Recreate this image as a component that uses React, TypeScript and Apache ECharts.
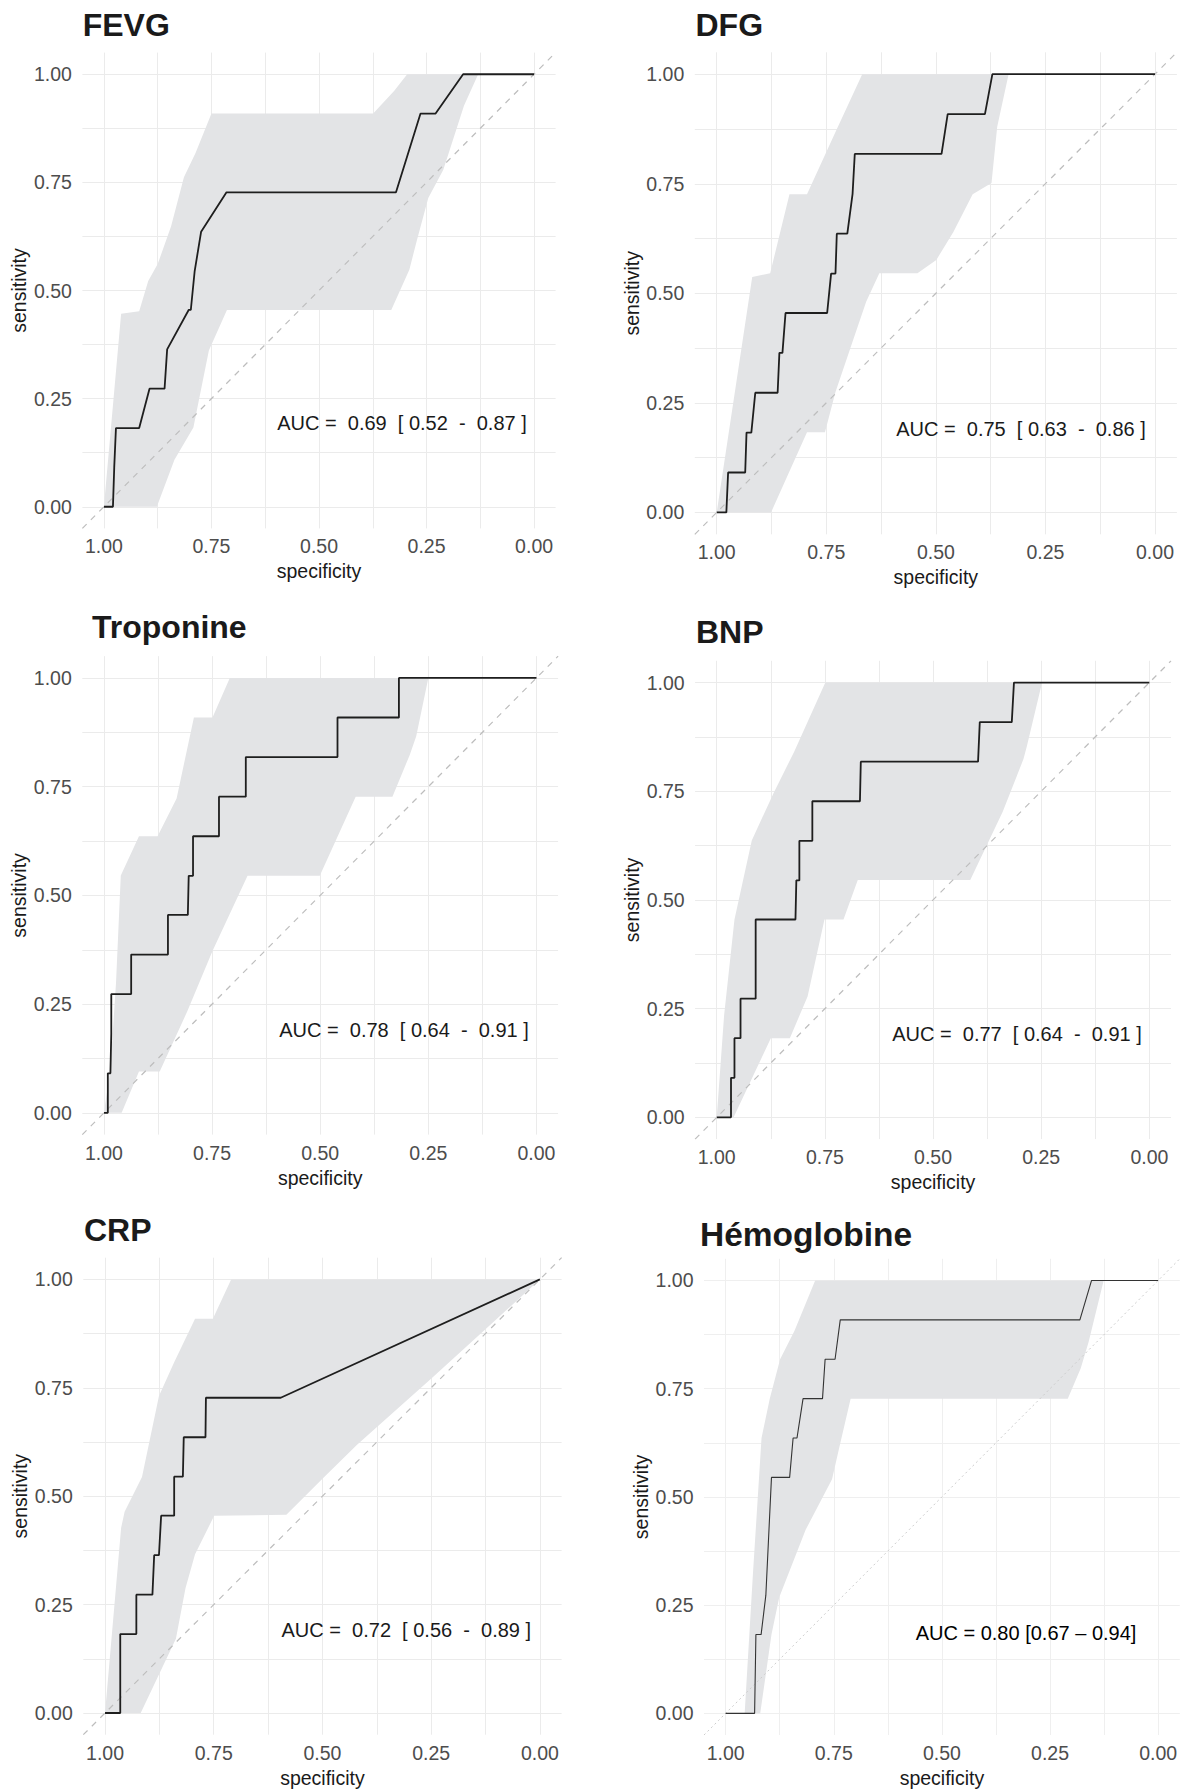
import React, { useEffect, useRef } from "react";
import * as echarts from "echarts";

// ---------- data ----------
const tickValues = [0, 0.25, 0.5, 0.75, 1];
const gridValues = [0, 0.125, 0.25, 0.375, 0.5, 0.625, 0.75, 0.875, 1];
const axisMin = -0.05;
const axisMax = 1.05;

const panelTitles = ["FEVG", "DFG", "Troponine", "BNP", "CRP", "Hémoglobine"];
const aucLabels = [
  "AUC =  0.69  [ 0.52  -  0.87 ]",
  "AUC =  0.75  [ 0.63  -  0.86 ]",
  "AUC =  0.78  [ 0.64  -  0.91 ]",
  "AUC =  0.77  [ 0.64  -  0.91 ]",
  "AUC =  0.72  [ 0.56  -  0.89 ]",
  "AUC = 0.80 [0.67 – 0.94]",
];

// [specificity, sensitivity]
const fevgCurve = [[1, 0], [0.979, 0], [0.976, 0.091], [0.972, 0.182], [0.918, 0.182], [0.894, 0.273], [0.859, 0.273], [0.853, 0.364], [0.803, 0.455], [0.798, 0.455], [0.789, 0.545], [0.774, 0.636], [0.715, 0.727], [0.321, 0.727], [0.264, 0.909], [0.229, 0.909], [0.165, 1], [0, 1]];
const fevgUpper = [[1, 0], [0.96, 0.446], [0.918, 0.452], [0.897, 0.522], [0.875, 0.561], [0.844, 0.648], [0.814, 0.762], [0.787, 0.818], [0.75, 0.909], [0.374, 0.909], [0.325, 0.962], [0.295, 1], [0, 1]];
const fevgLower = [[1, 0], [0.877, 0], [0.836, 0.109], [0.792, 0.183], [0.756, 0.361], [0.714, 0.455], [0.332, 0.455], [0.29, 0.548], [0.273, 0.614], [0.246, 0.714], [0.211, 0.779], [0.163, 0.927], [0.13, 1], [0, 1]];

const dfgCurve = [[1, 0], [0.978, 0], [0.974, 0.091], [0.935, 0.091], [0.932, 0.182], [0.921, 0.182], [0.912, 0.273], [0.861, 0.273], [0.857, 0.364], [0.85, 0.364], [0.843, 0.455], [0.748, 0.455], [0.739, 0.545], [0.729, 0.545], [0.726, 0.636], [0.702, 0.636], [0.69, 0.727], [0.685, 0.818], [0.487, 0.818], [0.473, 0.909], [0.388, 0.909], [0.371, 1], [0, 1]];
const dfgUpper = [[1, 0], [0.919, 0.537], [0.878, 0.546], [0.834, 0.726], [0.794, 0.726], [0.729, 0.868], [0.668, 1], [0, 1]];
const dfgLower = [[1, 0], [0.876, 0], [0.794, 0.183], [0.753, 0.183], [0.729, 0.275], [0.694, 0.378], [0.659, 0.481], [0.629, 0.546], [0.542, 0.546], [0.499, 0.576], [0.46, 0.64], [0.416, 0.726], [0.373, 0.752], [0.36, 0.88], [0.334, 1], [0, 1]];

const tropCurve = [[1, 0], [0.991, 0], [0.991, 0.091], [0.985, 0.091], [0.983, 0.182], [0.983, 0.273], [0.937, 0.273], [0.937, 0.364], [0.852, 0.364], [0.852, 0.455], [0.806, 0.455], [0.804, 0.545], [0.794, 0.545], [0.794, 0.636], [0.734, 0.636], [0.734, 0.727], [0.672, 0.727], [0.672, 0.818], [0.46, 0.818], [0.46, 0.909], [0.318, 0.909], [0.318, 1], [0, 1]];
const tropUpper = [[1, 0], [0.985, 0.1], [0.972, 0.3], [0.961, 0.546], [0.919, 0.636], [0.876, 0.636], [0.832, 0.723], [0.792, 0.909], [0.749, 0.909], [0.709, 1], [0, 1]];
const tropLower = [[1, 0], [0.959, 0], [0.919, 0.095], [0.871, 0.095], [0.807, 0.234], [0.749, 0.372], [0.668, 0.545], [0.501, 0.545], [0.418, 0.727], [0.333, 0.727], [0.293, 0.823], [0.278, 0.866], [0.25, 1], [0, 1]];

const bnpCurve = [[1, 0], [0.967, 0], [0.967, 0.091], [0.959, 0.091], [0.959, 0.182], [0.945, 0.182], [0.945, 0.273], [0.91, 0.273], [0.91, 0.455], [0.818, 0.455], [0.816, 0.545], [0.809, 0.545], [0.809, 0.636], [0.779, 0.636], [0.779, 0.727], [0.669, 0.727], [0.667, 0.818], [0.396, 0.818], [0.392, 0.909], [0.318, 0.909], [0.313, 1], [0, 1]];
const bnpUpper = [[1, 0], [0.983, 0.234], [0.959, 0.455], [0.919, 0.637], [0.869, 0.745], [0.821, 0.841], [0.749, 1], [0, 1]];
const bnpLower = [[1, 0], [0.961, 0], [0.875, 0.182], [0.831, 0.182], [0.79, 0.278], [0.751, 0.455], [0.707, 0.455], [0.674, 0.546], [0.414, 0.546], [0.339, 0.703], [0.291, 0.824], [0.283, 0.854], [0.248, 1], [0, 1]];

const crpCurve = [[1, 0], [0.965, 0], [0.965, 0.182], [0.928, 0.182], [0.928, 0.273], [0.891, 0.273], [0.887, 0.364], [0.876, 0.364], [0.871, 0.455], [0.841, 0.455], [0.841, 0.545], [0.821, 0.545], [0.819, 0.636], [0.769, 0.636], [0.768, 0.727], [0.596, 0.727], [0, 1]];
const crpUpper = [[1, 0], [0.963, 0.427], [0.955, 0.464], [0.915, 0.544], [0.876, 0.731], [0.841, 0.809], [0.793, 0.909], [0.752, 0.909], [0.71, 1], [0, 1]];
const crpLower = [[1, 0], [0.918, 0], [0.837, 0.171], [0.815, 0.288], [0.793, 0.366], [0.749, 0.455], [0.583, 0.457], [0.5, 0.54], [0.421, 0.618], [0.247, 0.774], [0.115, 0.894], [0, 1]];

const hbCurve = [[1, 0], [0.933, 0], [0.93, 0.182], [0.918, 0.182], [0.907, 0.273], [0.894, 0.545], [0.852, 0.545], [0.844, 0.636], [0.835, 0.636], [0.821, 0.727], [0.776, 0.727], [0.77, 0.818], [0.747, 0.818], [0.735, 0.909], [0.181, 0.909], [0.154, 1], [0, 1]];
const hbUpper = [[0.956, 0], [0.937, 0.32], [0.917, 0.636], [0.898, 0.727], [0.874, 0.818], [0.841, 0.883], [0.793, 1], [0, 1]];
const hbLower = [[0.92, 0], [0.894, 0.182], [0.876, 0.268], [0.815, 0.424], [0.754, 0.541], [0.737, 0.615], [0.711, 0.727], [0.209, 0.727], [0.179, 0.797], [0.161, 0.857], [0.126, 1], [0, 1]];

const curves = [fevgCurve, dfgCurve, tropCurve, bnpCurve, crpCurve, hbCurve];
const uppers = [fevgUpper, dfgUpper, tropUpper, bnpUpper, crpUpper, hbUpper];
const lowers = [fevgLower, dfgLower, tropLower, bnpLower, crpLower, hbLower];

// ---------- layout (pixels) ----------
const gridBoxes = [
  [82.4, 52.6, 473.2, 475.8],
  [694.8, 52.3, 482.1, 482],
  [82.3, 656.2, 475.8, 478.4],
  [695.1, 660.8, 475.9, 478.3],
  [83.3, 1257.7, 478.3, 477],
  [704, 1258.8, 475.8, 477],
];
const titlePos = [[82.7, 24.5], [695.5, 25], [92, 627], [696, 632], [84, 1230], [700, 1234]];
const aucPos = [[402, 422.5], [1021, 429], [404, 1030], [1017, 1034], [406.3, 1630], [1026, 1633]];

const FONT = "'Liberation Sans', Arial, Helvetica, sans-serif";

function buildOption() {
  const grid: any[] = [];
  const xAxis: any[] = [];
  const yAxis: any[] = [];
  const series: any[] = [];
  const graphic: any[] = [];

  for (let i = 0; i < 6; i++) {
    const [l, t, w, h] = gridBoxes[i];
    const isHb = i === 5;
    grid.push({ left: l, top: t, width: w, height: h, containLabel: false });
    const common = {
      gridIndex: i,
      type: "value",
      min: axisMin,
      max: axisMax,
      nameLocation: "middle",
      nameTextStyle: { fontSize: 19.5, color: "#1a1a1a", fontFamily: FONT },
      axisLine: { show: false },
      axisTick: { show: false, customValues: gridValues },
      axisLabel: {
        customValues: tickValues,
        formatter: (v: number) => v.toFixed(2),
        color: "#4d4d4d",
        fontSize: 19.5,
        fontFamily: FONT,
      },
      splitLine: { show: true, lineStyle: { color: isHb ? "#efefef" : "#ebebeb", width: 1 } },
    };
    xAxis.push({
      ...common,
      inverse: true,
      name: "specificity",
      nameGap: 33,
      axisLine: { show: false, onZero: false },
      axisLabel: { ...common.axisLabel, margin: 8 },
    });
    yAxis.push({
      ...common,
      name: "sensitivity",
      nameGap: 53,
      axisLine: { show: false, onZero: false },
      axisLabel: { ...common.axisLabel, margin: 10.5 },
    });

    const up = uppers[i];
    const lo = lowers[i];
    series.push({
      type: "custom",
      xAxisIndex: i,
      yAxisIndex: i,
      clip: true,
      z: 1,
      silent: true,
      data: [[0.5, 0.5]],
      renderItem: (params: any, api: any) => {
        const pts = up.concat(lo.slice().reverse()).map((p) => api.coord(p));
        return {
          type: "polygon",
          shape: { points: pts },
          style: { fill: "#e3e4e6", stroke: null },
        };
      },
    });
    series.push({
      type: "line",
      xAxisIndex: i,
      yAxisIndex: i,
      z: 2,
      symbol: "none",
      silent: true,
      data: [[axisMax, axisMin], [axisMin, axisMax]],
      lineStyle: isHb
        ? { color: "#cdcdcd", width: 1, type: [2, 3] }
        : { color: "#bdbdbd", width: 1.2, type: [6, 6] },
    });
    series.push({
      type: "line",
      xAxisIndex: i,
      yAxisIndex: i,
      z: 3,
      symbol: "none",
      silent: true,
      data: curves[i],
      lineStyle: isHb ? { color: "#333333", width: 1.1 } : { color: "#1e1e1e", width: 1.8 },
    });

    graphic.push({
      type: "text",
      x: titlePos[i][0],
      y: titlePos[i][1],
      style: {
        text: panelTitles[i],
        font: `bold ${isHb ? 33.5 : 32}px ${FONT}`,
        fill: "#1a1a1a",
        align: "left",
        verticalAlign: "middle",
        textAlign: "left",
        textVerticalAlign: "middle",
      },
    });
    graphic.push({
      type: "text",
      x: aucPos[i][0],
      y: aucPos[i][1],
      z: 10,
      style: {
        text: aucLabels[i],
        font: `20px ${FONT}`,
        fill: isHb ? "#000000" : "#1a1a1a",
        align: "center",
        verticalAlign: "middle",
        textAlign: "center",
        textVerticalAlign: "middle",
      },
    });
  }

  return {
    animation: false,
    backgroundColor: "#ffffff",
    textStyle: { fontFamily: FONT },
    grid,
    xAxis,
    yAxis,
    series,
    graphic,
  };
}

export default function App() {
  const ref = useRef<HTMLDivElement>(null);
  useEffect(() => {
    document.body.style.margin = "0";
    if (!ref.current) return;
    const chart = echarts.init(ref.current, null, { renderer: "svg" });
    chart.setOption(buildOption() as any);
    return () => chart.dispose();
  }, []);
  return (
    <div
      ref={ref}
      style={{ position: "absolute", left: 0, top: 0, width: 1187, height: 1789, background: "#fff" }}
    />
  );
}
